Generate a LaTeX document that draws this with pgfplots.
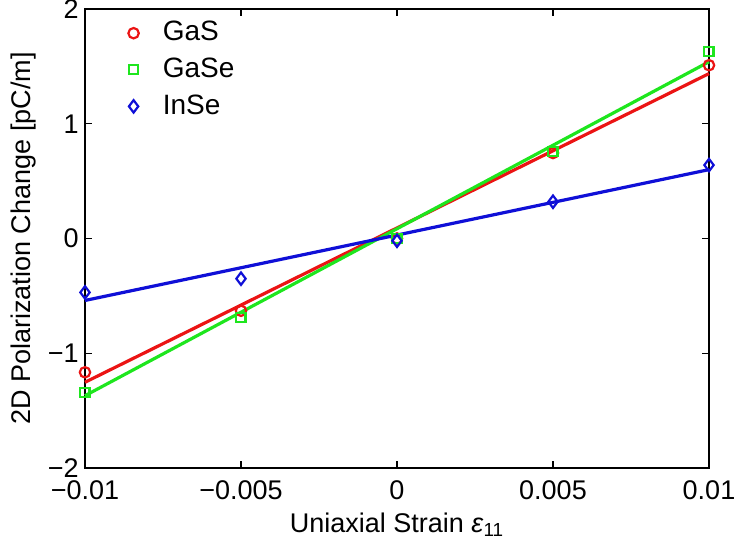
\documentclass[border=0pt]{standalone}
\usepackage{fontspec}
\setmainfont{Liberation Sans}
\usepackage{pgfplots}
\pgfplotsset{compat=1.18}

\definecolor{mred}{RGB}{235,20,20}
\definecolor{mgreen}{RGB}{30,230,30}
\definecolor{mblue}{RGB}{15,15,215}

\begin{document}
\fontsize{13.5}{16}\selectfont
\begin{tikzpicture}
\begin{axis}[
    scale only axis,
    width=312pt, height=229.5pt,
    xmin=-0.01, xmax=0.01,
    ymin=-2, ymax=2,
    xtick={-0.01,-0.005,0,0.005,0.01},
    xticklabels={−0.01,−0.005,0,0.005,0.01},
    ytick={-2,-1,0,1,2},
    yticklabels={−2,−1,0,1,2},
    tick align=inside,
    major tick length=3.5pt,
    axis line style={line width=0.8pt},
    every tick/.style={black, line width=0.7pt},
    tick label style={font=\fontsize{13.5}{16}\selectfont},
    label style={font=\fontsize{13.5}{16}\selectfont},
    xlabel={Uniaxial Strain \textit{ε}\textsubscript{11}},
    ylabel={2D Polarization Change [pC/m]},
    xlabel style={at={(axis description cs:0.5,-0.124)}, anchor=center},
    ylabel style={at={(axis description cs:-0.098,0.5)}, anchor=center},
    xticklabel style={yshift=-1.5pt},
    yticklabel style={xshift=1.5pt},
    scaled x ticks=false,
    legend style={draw=none, fill=none, inner sep=0pt,
        at={(axis description cs:0,1)}, anchor=north west,
        xshift=21.5pt, yshift=-4pt,
        font=\fontsize{14}{16}\selectfont, row sep=2.5pt},
    legend cell align=left,
    clip=false,
]
% measured points
\addplot[only marks, mark=o, mark size=2.6pt, mred, line width=1.1pt]
    coordinates {(-0.01,-1.166)(-0.005,-0.63)(0,0.00)(0.005,0.745)(0.01,1.51)};
\addlegendentry{\hspace{10pt}GaS}
\addplot[only marks, mark=square, mark size=2.3pt, mgreen, line width=1.1pt]
    coordinates {(-0.01,-1.34)(-0.005,-0.69)(0,0.00)(0.005,0.76)(0.01,1.63)};
\addlegendentry{\hspace{10pt}GaSe}
\addplot[only marks, mark=diamond, mark size=3.1pt, mblue, line width=1.1pt]
    coordinates {(-0.01,-0.47)(-0.005,-0.35)(0,-0.02)(0.005,0.32)(0.01,0.64)};
\addlegendentry{\hspace{10pt}InSe}
% linear fits
\addplot[mred, line width=1.6pt] coordinates {(-0.01,-1.253)(0.01,1.437)};
\addplot[mgreen, line width=1.6pt] coordinates {(-0.01,-1.37)(0.01,1.54)};
\addplot[mblue, line width=1.6pt] coordinates {(-0.01,-0.54)(0.01,0.60)};
\end{axis}
\pgfresetboundingbox
\path[use as bounding box] ([xshift=-42.5pt,yshift=-41pt]current axis.south west)
    rectangle ([xshift=13pt,yshift=4.5pt]current axis.north east);
\end{tikzpicture}
\end{document}
